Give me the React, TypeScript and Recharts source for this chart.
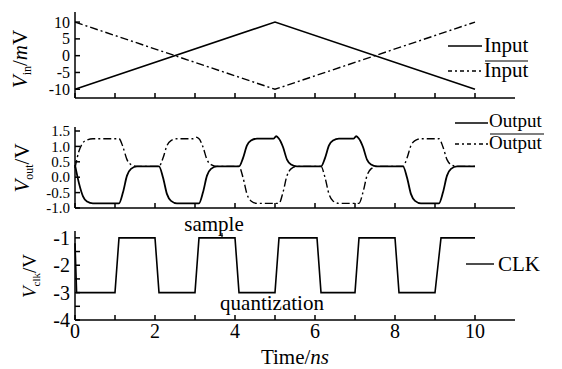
import { LineChart, Line, XAxis, YAxis } from 'recharts'

const FONT = '"Liberation Serif", "Times New Roman", serif'

// top panel: input ramp (mV)
const inputTime = [0, 5, 10]
const inputValues = [-10, 10, -10]
const inputBarValues = [10, -10, 10]

// middle panel: comparator outputs (V)
const outputTime = [
  0, 0.1, 0.2, 0.3, 0.45,
  1.1, 1.2, 1.3, 1.4, 1.55,
  2.1, 2.2, 2.3, 2.4, 2.55,
  2.95, 3.02, 3.1, 3.2, 3.3, 3.4, 3.55,
  4.1, 4.2, 4.3, 4.4, 4.55,
  4.96, 5.03, 5.1, 5.2, 5.3, 5.4, 5.55,
  6.15, 6.25, 6.35, 6.45, 6.6,
  6.96, 7.03, 7.1, 7.2, 7.3, 7.4, 7.55,
  8.2, 8.3, 8.4, 8.5, 8.65,
  9.1, 9.2, 9.3, 9.4, 9.55,
  10,
]
const outputValues = [
  0.4, -0.2, -0.62, -0.79, -0.85,
  -0.85, -0.49, 0.05, 0.27, 0.35,
  0.35, -0.01, -0.55, -0.77, -0.85,
  -0.85, -0.85, -0.85, -0.49, 0.05, 0.27, 0.35,
  0.35, 0.62, 1.03, 1.19, 1.25,
  1.25, 1.33, 1.25, 0.98, 0.57, 0.41, 0.35,
  0.35, 0.62, 1.03, 1.19, 1.25,
  1.25, 1.33, 1.25, 0.98, 0.57, 0.41, 0.35,
  0.35, -0.01, -0.55, -0.77, -0.85,
  -0.85, -0.49, 0.05, 0.27, 0.35,
  0.35,
]
const outputBarValues = [
  0.3, 0.85, 1.12, 1.21, 1.25,
  1.25, 0.98, 0.57, 0.41, 0.35,
  0.35, 0.62, 1.03, 1.19, 1.25,
  1.25, 1.3, 1.25, 0.98, 0.57, 0.41, 0.35,
  0.35, -0.01, -0.55, -0.77, -0.85,
  -0.85, -0.85, -0.85, -0.49, 0.05, 0.27, 0.35,
  0.35, -0.01, -0.55, -0.77, -0.85,
  -0.85, -0.85, -0.85, -0.49, 0.05, 0.27, 0.35,
  0.35, 0.62, 1.03, 1.19, 1.25,
  1.25, 0.98, 0.57, 0.41, 0.35,
  0.35,
]

// bottom panel: clock (V)
const clkTime = [0, 0.04, 1.0, 1.1, 2.0, 2.1, 3.0, 3.1, 4.0, 4.1, 5.0, 5.1, 6.05, 6.15, 7.0, 7.1, 8.0, 8.1, 9.0, 9.15, 10]
const clkValues = [-1.2, -3, -3, -1, -1, -3, -3, -1, -1, -3, -3, -1, -1, -3, -3, -1, -1, -3, -3, -1, -1]

const xTicks = [0, 1, 2, 3, 4, 5, 6, 7, 8, 9, 10]
const inTicks = [-10, -5, 0, 5, 10]
const outTicks = [-1, -0.5, 0, 0.5, 1, 1.5]
const clkTicks = [-4, -3.5, -3, -2.5, -2, -1.5, -1]
const clkLabelTicks = [-4, -3, -2, -1]

const inputData = inputTime.map((t, i) => ({ t, input: inputValues[i], inputBar: inputBarValues[i] }))
const outputData = outputTime.map((t, i) => ({ t, output: outputValues[i], outputBar: outputBarValues[i] }))
const clkData = clkTime.map((t, i) => ({ t, clk: clkValues[i] }))

const DASH_DOT = '8 3 2 3'
const axisLine = { stroke: '#000', strokeWidth: 1.5 }

function XTick(props: any) {
  const { x, y, payload, showLabel } = props
  const even = payload.value % 2 === 0
  return (
    <g>
      <line x1={x} x2={x} y1={y} y2={y - 5} stroke="#000" strokeWidth={1.5} />
      {showLabel && even && (
        <text x={x} y={y + 18} textAnchor="middle" fontFamily={FONT} fontSize={20} fill="#000">
          {payload.value}
        </text>
      )}
    </g>
  )
}

function YTick(props: any) {
  const { x, y, payload, labels, digits, size } = props
  const v = payload.value
  const show = !labels || labels.includes(v)
  return (
    <g>
      <line x1={x} x2={x + 5} y1={y} y2={y} stroke="#000" strokeWidth={1.5} />
      {show && (
        <text x={x - 5} y={y} dy="0.35em" textAnchor="end" fontFamily={FONT} fontSize={size || 20} fill="#000">
          {digits ? v.toFixed(digits) : v}
        </text>
      )}
    </g>
  )
}

const common = { width: 562, style: { position: 'absolute' as const, left: 0 } }
const tickProps = { tickLine: false, tickSize: 0, tickMargin: 0, interval: 0 as const, axisLine }

export default function App() {
  return (
    <div style={{ position: 'absolute', left: 0, top: 0, width: 562, height: 369, background: '#fff' }}>
      <LineChart {...common} style={{ ...common.style, top: 0 }} height={110} data={inputData}
        margin={{ top: 12, right: 47, bottom: 11, left: 25 }}>
        <XAxis dataKey="t" type="number" domain={[0, 11]} ticks={xTicks} height={1} {...tickProps} tick={<XTick />} />
        <YAxis type="number" domain={[-12.6, 13]} ticks={inTicks} width={50} {...tickProps} tick={<YTick size={16} />} />
        <Line dataKey="input" type="linear" stroke="#000" strokeWidth={1.6} dot={false} isAnimationActive={false} />
        <Line dataKey="inputBar" type="linear" stroke="#000" strokeWidth={1.4} strokeDasharray={DASH_DOT} dot={false} isAnimationActive={false} />
      </LineChart>

      <LineChart {...common} style={{ ...common.style, top: 110 }} height={110} data={outputData}
        margin={{ top: 17, right: 47, bottom: 11, left: 25 }}>
        <XAxis dataKey="t" type="number" domain={[0, 11]} ticks={xTicks} height={1} {...tickProps} tick={<XTick />} />
        <YAxis type="number" domain={[-1, 1.63]} ticks={outTicks} width={50} {...tickProps} tick={<YTick digits={1} size={15} />} />
        <Line dataKey="output" type="monotone" stroke="#000" strokeWidth={1.8} dot={false} isAnimationActive={false} />
        <Line dataKey="outputBar" type="monotone" stroke="#000" strokeWidth={1.4} strokeDasharray={DASH_DOT} dot={false} isAnimationActive={false} />
      </LineChart>

      <LineChart {...common} style={{ ...common.style, top: 220 }} height={149} data={clkData}
        margin={{ top: 11, right: 47, bottom: 48, left: 25 }}>
        <XAxis dataKey="t" type="number" domain={[0, 11]} ticks={xTicks} height={1} {...tickProps} tick={<XTick showLabel />} />
        <YAxis type="number" domain={[-4, -0.75]} ticks={clkTicks} width={50} {...tickProps} tick={<YTick labels={clkLabelTicks} />} />
        <Line dataKey="clk" type="linear" stroke="#000" strokeWidth={1.6} dot={false} isAnimationActive={false} />
      </LineChart>

      <svg width={562} height={369} style={{ position: 'absolute', left: 0, top: 0, pointerEvents: 'none' }}
        fontFamily={FONT} fill="#000">
        {/* y axis titles */}
        <text transform="translate(27,59) rotate(-90)" textAnchor="middle" fontSize={21}>
          <tspan fontStyle="italic">V</tspan>
          <tspan fontSize={12} dy={4}>in</tspan>
          <tspan dy={-4}>/</tspan>
          <tspan fontStyle="italic">m</tspan>
          <tspan>V</tspan>
        </text>
        <text transform="translate(29,168) rotate(-90)" textAnchor="middle" fontSize={21}>
          <tspan fontStyle="italic">V</tspan>
          <tspan fontSize={12} dy={4}>out</tspan>
          <tspan dy={-4}>/V</tspan>
        </text>
        <text transform="translate(36,276) rotate(-90)" textAnchor="middle" fontSize={19}>
          <tspan fontStyle="italic">V</tspan>
          <tspan fontSize={11} dy={4}>clk</tspan>
          <tspan dy={-4}>/V</tspan>
        </text>

        {/* legends */}
        <line x1={448} x2={482} y1={46} y2={46} stroke="#000" strokeWidth={1.4} />
        <text x={484} y={52} fontSize={21}>Input</text>
        <line x1={448} x2={482} y1={71} y2={71} stroke="#000" strokeWidth={1.4} strokeDasharray="4 3 2 3" />
        <text x={484} y={77} fontSize={21}>Input</text>
        <line x1={485} x2={528} y1={61} y2={61} stroke="#000" strokeWidth={1.2} />

        <line x1={455} x2={488} y1={123} y2={123} stroke="#000" strokeWidth={1.4} />
        <text x={489} y={127} fontSize={19}>Output</text>
        <line x1={455} x2={488} y1={144} y2={144} stroke="#000" strokeWidth={1.4} strokeDasharray="4 3 2 3" />
        <text x={489} y={149} fontSize={19}>Output</text>
        <line x1={490} x2={544} y1={134} y2={134} stroke="#000" strokeWidth={1.2} />

        <line x1={466} x2={494} y1={264} y2={264} stroke="#000" strokeWidth={1.4} />
        <text x={498} y={271} fontSize={21}>CLK</text>

        {/* annotations */}
        <text x={214} y={231} textAnchor="middle" fontSize={21}>sample</text>
        <line x1={222} x2={222} y1={233} y2={238} stroke="#000" strokeWidth={1.2} />
        <text x={272} y={310} textAnchor="middle" fontSize={21}>quantization</text>

        <text x={295} y={364} textAnchor="middle" fontSize={21}>
          <tspan>Time/</tspan>
          <tspan fontStyle="italic">ns</tspan>
        </text>
      </svg>
    </div>
  )
}
